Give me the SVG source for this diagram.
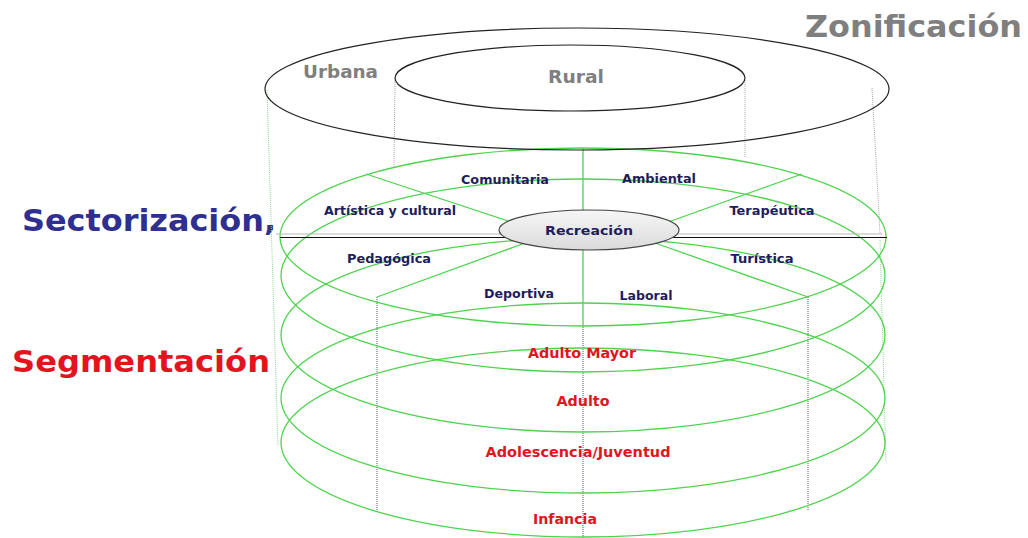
<svg xmlns="http://www.w3.org/2000/svg" width="1028" height="538" viewBox="0 0 1028 538">
<defs>
<linearGradient id="rg" x1="0" y1="0" x2="0" y2="1">
<stop offset="0" stop-color="#f6f6f6"/>
<stop offset="1" stop-color="#dadada"/>
</linearGradient>
<style>
.ring{fill:none;stroke:#4fd34f;stroke-width:1.3}
.gl{stroke:#4fd34f;stroke-width:1.3;fill:none}
.dotg{stroke:#8fdc8f;stroke-width:1;stroke-dasharray:1 1;fill:none}
.dotgr{stroke:#a8a8a8;stroke-width:1;stroke-dasharray:1 1;fill:none}
.dotd{stroke:#555a70;stroke-width:1;stroke-dasharray:1 1;fill:none}
.zone{fill:none;stroke:#222;stroke-width:1.2}
.title{font-family:"DejaVu Sans",Verdana,sans-serif;font-weight:bold;font-size:30px}
.zl{font-family:"DejaVu Sans",Verdana,sans-serif;font-weight:bold;font-size:17px;fill:#7f7f7f}
.sec{font-family:"DejaVu Sans",Tahoma,sans-serif;font-weight:bold;font-size:13px;fill:#1e1d5c;text-anchor:middle}
.seg{font-family:"DejaVu Sans",Tahoma,sans-serif;font-weight:bold;font-size:14px;fill:#e0161e;text-anchor:middle}
</style>
</defs>
<rect width="1028" height="538" fill="#fff"/>

<g id="titles">
<text class="title" x="805" y="37" fill="#7f7f7f" textLength="217" lengthAdjust="spacingAndGlyphs">Zonificación</text>
<text class="title" x="22" y="231" fill="#2e2f8f" textLength="254" lengthAdjust="spacingAndGlyphs">Sectorización,</text>
<text class="title" x="12" y="372" fill="#e3141d" textLength="258" lengthAdjust="spacingAndGlyphs">Segmentación</text>
</g>

<g id="connectors">
<line class="dotg" x1="267" y1="90" x2="278" y2="446"/>
<line class="dotgr" x1="872" y1="88" x2="880" y2="233"/>
<line class="dotg" x1="880" y1="240" x2="886" y2="462"/>
<line class="dotgr" x1="395" y1="80" x2="394" y2="167"/>
<line class="dotgr" x1="745" y1="80" x2="745" y2="158"/>
<line class="dotd" x1="377" y1="297" x2="377" y2="512"/>
<line class="dotd" x1="808" y1="297" x2="808" y2="510"/>
<line class="dotd" x1="583" y1="325" x2="583" y2="538"/>
</g>

<g id="segmentacion">
<ellipse class="ring" cx="583" cy="275.5" rx="302" ry="96.5"/>
<ellipse class="ring" cx="583" cy="335" rx="302" ry="97"/>
<ellipse class="ring" cx="583" cy="398" rx="302" ry="95"/>
<ellipse class="ring" cx="583" cy="442.5" rx="302" ry="94.5"/>
<text class="seg" x="582" y="358" textLength="108" lengthAdjust="spacingAndGlyphs">Adulto Mayor</text>
<text class="seg" x="583" y="406" textLength="53" lengthAdjust="spacingAndGlyphs">Adulto</text>
<text class="seg" x="578" y="457" textLength="185" lengthAdjust="spacingAndGlyphs">Adolescencia/Juventud</text>
<text class="seg" x="565" y="524" textLength="64" lengthAdjust="spacingAndGlyphs">Infancia</text>
</g>

<g id="sectorizacion">
<ellipse class="ring" cx="583" cy="237" rx="303" ry="89"/>
<line class="gl" x1="583" y1="148" x2="583" y2="325"/>
<line class="gl" x1="366" y1="174" x2="520" y2="225"/>
<line class="gl" x1="802" y1="174" x2="660" y2="225"/>
<line class="gl" x1="377" y1="297" x2="525" y2="243"/>
<line class="gl" x1="808" y1="297" x2="655" y2="243"/>
<line x1="276" y1="234" x2="882" y2="234" stroke="#b8b8b8" stroke-width="1"/>
<line x1="280" y1="237.5" x2="887" y2="237.5" stroke="#111" stroke-width="1.2"/>
<text class="sec" x="505" y="184" textLength="88" lengthAdjust="spacingAndGlyphs">Comunitaria</text>
<text class="sec" x="659" y="183" textLength="74" lengthAdjust="spacingAndGlyphs">Ambiental</text>
<text class="sec" x="390" y="215" textLength="132" lengthAdjust="spacingAndGlyphs">Artística y cultural</text>
<text class="sec" x="772" y="215" textLength="85" lengthAdjust="spacingAndGlyphs">Terapéutica</text>
<text class="sec" x="389" y="263" textLength="84" lengthAdjust="spacingAndGlyphs">Pedagógica</text>
<text class="sec" x="762" y="263" textLength="63" lengthAdjust="spacingAndGlyphs">Turística</text>
<text class="sec" x="519" y="298" textLength="70" lengthAdjust="spacingAndGlyphs">Deportiva</text>
<text class="sec" x="646" y="300" textLength="53" lengthAdjust="spacingAndGlyphs">Laboral</text>
</g>

<g id="recreacion">
<ellipse cx="589" cy="230" rx="90" ry="20" fill="url(#rg)" stroke="#444" stroke-width="1.2"/>
<text class="sec" x="589" y="235" textLength="88" lengthAdjust="spacingAndGlyphs">Recreación</text>
</g>

<g id="zonificacion">
<ellipse id="urbana" class="zone" cx="577" cy="89" rx="312" ry="61"/>
<ellipse id="rural" class="zone" cx="570" cy="78" rx="175" ry="33"/>
<text class="zl" x="303" y="78" textLength="75" lengthAdjust="spacingAndGlyphs">Urbana</text>
<text class="zl" x="548" y="83" textLength="56" lengthAdjust="spacingAndGlyphs">Rural</text>
</g>
</svg>
